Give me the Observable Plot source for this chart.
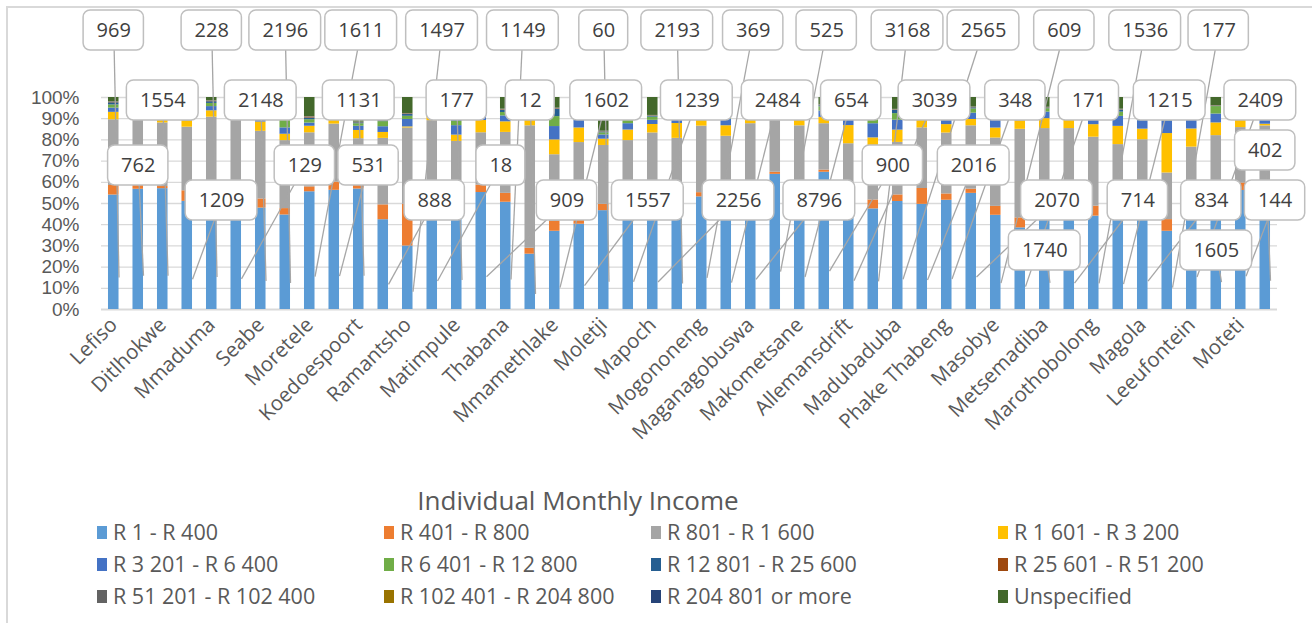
<!DOCTYPE html>
<html><head><meta charset="utf-8">
<script src="https://cdn.jsdelivr.net/npm/d3@7"></script>
<script src="https://cdn.jsdelivr.net/npm/@observablehq/plot@0.6"></script>
<style>
html,body{margin:0;padding:0;background:#fff}
body{width:1312px;height:623px;overflow:hidden;position:relative;font-family:"Open Sans",sans-serif}
#frame{position:absolute;left:6px;top:6px;width:1400px;height:700px;border-left:2px solid #d9d9d9;border-top:2px solid #d9d9d9}
#chart{position:absolute;left:0;top:0}
#legend-title{position:absolute;top:483px;left:0;width:1156px;text-align:center;font-size:26px;color:#595959;line-height:34px}
.li{position:absolute;font-size:21.5px;color:#595959;display:flex;align-items:center;white-space:nowrap;line-height:26px}
.sw{width:10px;height:13px;margin-right:6px;flex:none}
</style></head><body>
<div id="frame"></div>
<div id="chart"></div>
<div id="legend-title">Individual Monthly Income</div>
<div id="legend"></div>
<script>
// ---- data ----
const tickLabels = ["Lefiso","Ditlhokwe","Mmaduma","Seabe","Moretele","Koedoespoort","Ramantsho","Matimpule","Thabana","Mmamethlake","Moletji","Mapoch","Mogononeng","Maganagobuswa","Makometsane","Allemansdrift","Madubaduba","Phake Thabeng","Masobye","Metsemadiba","Marothobolong","Magola","Leeufontein","Moteti"];
const seriesNames = ["R 1 - R 400","R 401 - R 800","R 801 - R 1 600","R 1 601 - R 3 200","R 3 201 - R 6 400","R 6 401 - R 12 800","R 12 801 - R 25 600","R 25 601 - R 51 200","R 51 201 - R 102 400","R 102 401 - R 204 800","R 204 801 or more","Unspecified"];
const seriesColors = ["#5B9BD5","#ED7D31","#A5A5A5","#FFC000","#4472C4","#70AD47","#255E91","#9E480E","#636363","#997300","#264478","#43682B"];

// percentage shares per bar (48 bars), one array per income band
const r1_400 = [54,57,57,51,55,52,48,44.5,55.7,56.5,57,42.4,29.8,48,50,55.4,50.7,26.2,36.9,40.3,47,47,46.6,44,53.5,45.5,51,64,55,65,48.7,47.6,51,49.8,52,55,44.4,38.5,45,44.7,44,42.7,47.9,36.9,54.9,46,56.2,48.8];
const r401_800 = [4.5,5,1,5,3,3,4.3,3,2.3,3.9,3.5,7,19.6,3,3,3.5,4.2,2.8,4.7,6.3,3,2,3.1,5.5,2,4.7,6.3,1,2,1,3.1,4.2,3.1,7.5,3,2,4.2,4.7,3,5.5,4.7,8.3,4.7,5.5,3.9,3.5,3.5,7];
const r801_1600 = [31,30,30,30,33,39,32,32,25.6,27.5,20.3,31.4,35.8,38,27,24.8,28.8,58,31.4,32.3,28,31,34,31.4,31.6,32,30.7,25,30,22,26.7,21.2,24.8,28.7,29,30,32.2,41.8,37.6,35.4,32.5,26.7,27.4,22,18.1,32.6,26.2,31.4];
const r1601_3200 = [3.5,2.5,1.5,3,3,0.5,4.4,3,3.1,3.6,3.9,2.8,0.5,4,3,5.8,5,3,7,6.9,3,5,4,7,3.9,5,3,2,4,3,8.6,8.2,5.8,4,4,3,4.7,4,4.7,4,5.9,8.6,5,18.6,8.6,6,6,0.8];
const r3201_6400 = [2,1,1.5,3,2,0.3,3.1,3,1.5,1.5,2,2.7,3.5,1.5,4.5,3.6,2.8,3,6.3,3.6,2,3,2,4.2,3.6,3,3,2,3,3,4.4,6.7,4.7,3,3,3,4,3,3.1,3.6,4.7,4.7,4,6,4.7,4.2,4.7,5.2];
const r6401_12800 = [1.5,1.5,1,2,1.5,0.2,1.9,3.6,1.6,1.5,1.2,2.4,1.5,1,2,2.2,1.6,2,4.7,2.4,1,2,1.5,2.7,1.9,2,2,1,2,2,2,3.1,3.1,2,2,2,3,2,1.6,2.7,2,2,3,4.5,2.3,3.5,1,1.1];
const r12801_25600 = [1,1.5,0.5,1,0.8,0.2,1.6,3,0.8,0.8,0.4,0.4,0.8,0.5,0.5,0.2,1.1,0.5,3.5,0.6,0.4,0.5,0.4,0.8,0.3,0.5,0.5,0.5,0.5,0.5,1.5,1.4,1.6,0.5,0.5,0.5,1,1,0.3,0.2,1,1,1,1.5,0.1,0.1,1.2,0.2];
const r25601_51200 = [0.2,0.2,0.2,0.2,0.2,0.1,0.2,0.4,0.4,0.2,0.1,0.2,0.2,0.1,0.1,0.1,0.2,0.1,0.2,0.1,0.1,0.1,0.1,0.1,0.1,0.1,0.1,0.1,0.1,0.1,0.1,0.2,0.1,0.1,0.1,0.1,0.1,0.1,0.1,0.1,0.1,0.1,0.1,0.1,0.1,0.1,0.1,0.1];
const r51201_102400 = [0.1,0.1,0.1,0.1,0.1,0.1,0.1,0.1,0.1,0.1,0.1,0.1,0.1,0.1,0.1,0.1,0.1,0.1,0.1,0.1,0.1,0.1,0.1,0.1,0.1,0.1,0.1,0.1,0.1,0.1,0.1,0.1,0.1,0.1,0.1,0.1,0.1,0.1,0.1,0.1,0.1,0.1,0.1,0.1,0.1,0.1,0.1,0.1];
const r102401_204800 = [0.1,0.1,0.1,0.1,0.1,0.1,0.1,0.1,0.1,0.1,0.1,0.1,0.1,0.1,0.1,0.1,0.1,0.1,0.1,0.1,0.1,0.1,0.1,0.1,0.1,0.1,0.1,0.1,0.1,0.1,0.1,0.1,0.1,0.1,0.1,0.1,0.1,0.1,0.1,0.1,0.1,0.1,0.1,0.1,0.1,0.1,0.1,0.1];
const r204801_more = [0.1,0.1,0.1,0.1,0.1,0.1,0.1,0.1,0.1,0.1,0.1,0.1,0.1,0.1,0.1,0.1,0.1,0.1,0.1,0.1,0.1,0.1,0.1,0.1,0.1,0.1,0.1,0.1,0.1,0.1,0.1,0.1,0.1,0.1,0.1,0.1,0.1,0.1,0.1,0.1,0.1,0.1,0.1,0.1,0.1,0.1,0.2,0.1];
const unspecified = [2,1.5,7,4.5,1.5,5,4.5,7,9,4.7,11.6,10.5,7.5,3.5,10.5,4.5,5.5,4.5,5,7.4,16,9.5,8.5,4.2,3.5,7.5,3.5,4.5,3.5,3.5,5,7.4,5.6,4.5,7,4.5,6,4.6,4.6,3.8,4.7,5.5,6.5,4.6,7.4,3.8,0.8,5.8];

// callout values (one per bar)
const calloutValues = [969,762,1554,1209,228,129,2148,2196,1611,531,1131,888,1497,18,177,909,1149,12,1602,1557,60,1239,2256,2193,369,2484,8796,525,654,900,3039,3168,2565,2016,348,2070,609,171,1740,714,1536,1215,834,177,2409,1605,144,402];

// ---- build ----
const seriesData = [r1_400,r401_800,r801_1600,r1601_3200,r3201_6400,r6401_12800,r12801_25600,r25601_51200,r51201_102400,r102401_204800,r204801_more,unspecified];
const N = r1_400.length;
const rows = [];
for (let i = 0; i < N; i++) {
  const tot = d3.sum(seriesData, s => s[i]);
  let acc = 0;
  seriesData.forEach((s, k) => {
    const v = s[i] / tot * 100;
    rows.push({i, series: seriesNames[k], y1: acc, y2: acc + v});
    acc += v;
  });
}
const blueShare = d3.range(N).map(i => r1_400[i] / d3.sum(seriesData, s => s[i]) * 100);

const W = 1312, H = 480, ML = 101, MR = 35, MT = 97, MB = 171;
const HALF = 0.215;
const pxX = (W - ML - MR) / N, pxY = (H - MT - MB) / 100;
const toPxX = v => ML + (v + 0.5) * pxX;
const fromPxX = px => (px - ML) / pxX - 0.5, fromPxY = py => ((H - MB) - py) / pxY;

// greedy "best fit" callout layout: non-overlapping boxes near each bar,
// with a rotating preference of bands so the callouts scatter like the original
const ctx = document.createElement("canvas").getContext("2d");
ctx.font = "20px 'Open Sans'";
const bands = [30, 165, 100, 200, 55, 135, 250, 78, 225, 118, 185, 150, 272, 42, 212];
const offs = [0, 0.7, -0.7, 1.4, -1.4, 2.1, -2.1, 2.8, -2.8, 3.5, -3.5];
const placed = [];
const overlapArea = (b, p) => Math.max(0, Math.min(b.x1, p.x1) - Math.max(b.x0, p.x0)) * Math.max(0, Math.min(b.y1, p.y1) - Math.max(b.y0, p.y0));
const callouts = calloutValues.map((v, i) => {
  const label = String(v);
  const w = ctx.measureText(label).width + 26, h = 40;
  const r = i % 4;
  const order = bands.slice(r, 4).concat(bands.slice(0, r), bands.slice(4));
  let best = null, fallback = null, fallbackCost = Infinity;
  outer: for (const cy of order) for (const o of offs) {
    const cx = toPxX(i + o);
    const b = {x0: cx - w / 2, x1: cx + w / 2, y0: cy - h / 2, y1: cy + h / 2, cx, cy};
    if (b.x0 < 14 || b.x1 > W - 4 || b.y0 < 10) continue;
    const hit = placed.some(p => !(b.x1 + 3 < p.x0 || b.x0 - 3 > p.x1 || b.y1 + 3 < p.y0 || b.y0 - 3 > p.y1));
    if (!hit) { best = b; break outer; }
    const cost = d3.sum(placed, p => overlapArea(b, p));
    if (cost < fallbackCost) { fallbackCost = cost; fallback = b; }
  }
  if (!best) best = fallback;
  placed.push(best);
  const bx = fromPxX(best.cx);
  return {
    label, bx, by: fromPxY(best.cy),
    bx0: fromPxX(best.x0), bx1: fromPxX(best.x1), by0: fromPxY(best.y1), by1: fromPxY(best.y0),
    ax: bx < i ? i - HALF : i + HALF, ay: blueShare[i] * 0.28
  };
});

const chart = Plot.plot({
  width: W, height: H,
  marginLeft: ML, marginRight: MR, marginTop: MT, marginBottom: MB,
  style: {fontFamily: "'Open Sans', sans-serif", color: "#595959", background: "transparent", overflow: "visible"},
  x: {domain: [-0.5, N - 0.5]},
  y: {domain: [0, 100]},
  color: {domain: seriesNames, range: seriesColors},
  marks: [
    Plot.gridY({ticks: d3.range(10, 101, 10), stroke: "#d9d9d9", strokeOpacity: 1, strokeWidth: 1.3}),
    Plot.ruleY([0], {stroke: "#d9d9d9", strokeWidth: 2}),
    Plot.rect(rows, {x1: d => d.i - HALF, x2: d => d.i + HALF, y1: "y1", y2: "y2", fill: "series"}),
    Plot.axisY({ticks: d3.range(0, 101, 10), tickFormat: d => d + "%", tickSize: 0, tickPadding: 22, fontSize: 19, fontFamily: "'Liberation Sans', sans-serif"}),
    Plot.axisX({ticks: d3.range(0, N, 2), tickFormat: d => tickLabels[d / 2], tickRotate: -45, tickSize: 0, tickPadding: 12, fontSize: 20.5}),
    Plot.link(callouts, {x1: "ax", y1: "ay", x2: "bx", y2: "by", stroke: "#a6a6a6", strokeWidth: 1.3}),
    Plot.rect(callouts, {x1: "bx0", x2: "bx1", y1: "by0", y2: "by1", fill: "white", stroke: "#bfbfbf", strokeWidth: 1.5, rx: 7}),
    Plot.text(callouts, {x: "bx", y: "by", text: "label", fontSize: 20, fill: "#404040"})
  ]
});
document.getElementById("chart").appendChild(chart);

// legend
const legendCols = [97, 384, 651, 998];
const legendRows = [519, 551, 583];
const leg = document.getElementById("legend");
seriesNames.forEach((name, k) => {
  const el = document.createElement("div");
  el.className = "li";
  el.style.left = legendCols[k % 4] + "px";
  el.style.top = legendRows[Math.floor(k / 4)] + "px";
  el.innerHTML = `<span class="sw" style="background:${seriesColors[k]}"></span><span>${name}</span>`;
  leg.appendChild(el);
});
</script>
</body></html>
